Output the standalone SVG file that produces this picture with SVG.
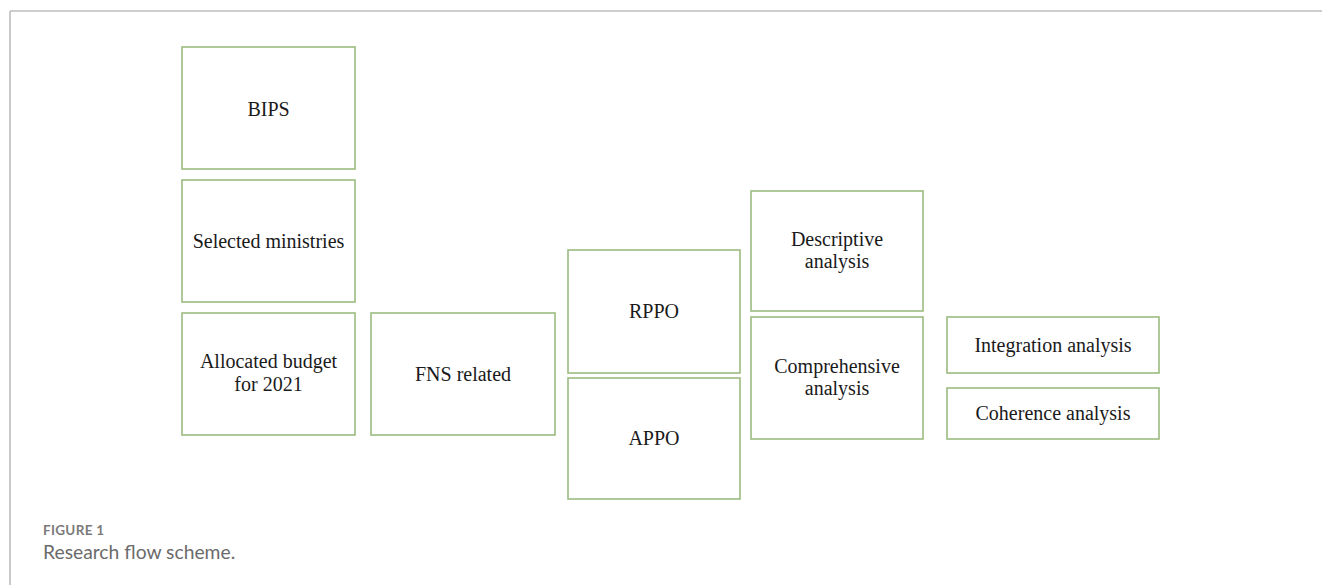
<svg xmlns="http://www.w3.org/2000/svg" width="1322" height="585" viewBox="0 0 1322 585">
<style>
.box{fill:#ffffff;stroke:#9cbb80;stroke-width:1.6}
.t{font-family:"Liberation Serif","Times New Roman",serif;font-size:20px;fill:#1a1a1a;text-anchor:middle}
.cap1{font-family:Lato,"Liberation Sans",sans-serif;font-size:13.5px;font-weight:bold;fill:#7a7a7a;letter-spacing:0.3px}
.cap2{font-family:Lato,"Liberation Sans",sans-serif;font-size:19.3px;fill:#6b6b6b}
</style>
<rect width="1322" height="585" fill="#ffffff"/>
<g id="frame">
<line x1="10" y1="11" x2="1322" y2="11" stroke="#bdbdbd" stroke-width="1.6"/>
<line x1="10" y1="11" x2="10" y2="585" stroke="#bdbdbd" stroke-width="1.6"/>
</g>
<g id="connectors"></g>
<g id="bips"><rect class="box" x="182" y="47" width="173" height="122"/><text class="t" x="268.5" y="116">BIPS</text></g>
<g id="ministries"><rect class="box" x="182" y="180" width="173" height="122"/><text class="t" x="268.5" y="248">Selected ministries</text></g>
<g id="budget"><rect class="box" x="182" y="313" width="173" height="122"/><text class="t" x="268.5" y="368">Allocated budget</text><text class="t" x="268.5" y="391">for 2021</text></g>
<g id="fns"><rect class="box" x="371" y="313" width="184" height="122"/><text class="t" x="463" y="381">FNS related</text></g>
<g id="rppo"><rect class="box" x="568" y="250" width="172" height="123"/><text class="t" x="654" y="318">RPPO</text></g>
<g id="appo"><rect class="box" x="568" y="378" width="172" height="121"/><text class="t" x="654" y="445">APPO</text></g>
<g id="descriptive"><rect class="box" x="751" y="191" width="172" height="120"/><text class="t" x="837" y="246">Descriptive</text><text class="t" x="837" y="268">analysis</text></g>
<g id="comprehensive"><rect class="box" x="751" y="317" width="172" height="122"/><text class="t" x="837" y="373">Comprehensive</text><text class="t" x="837" y="395">analysis</text></g>
<g id="integration"><rect class="box" x="947" y="317" width="212" height="56"/><text class="t" x="1053" y="352">Integration analysis</text></g>
<g id="coherence"><rect class="box" x="947" y="388" width="212" height="51"/><text class="t" x="1053" y="420">Coherence analysis</text></g>
<g id="caption">
<text class="cap1" x="43" y="535">FIGURE 1</text>
<text class="cap2" x="43" y="559">Research flow scheme.</text>
</g>
</svg>
